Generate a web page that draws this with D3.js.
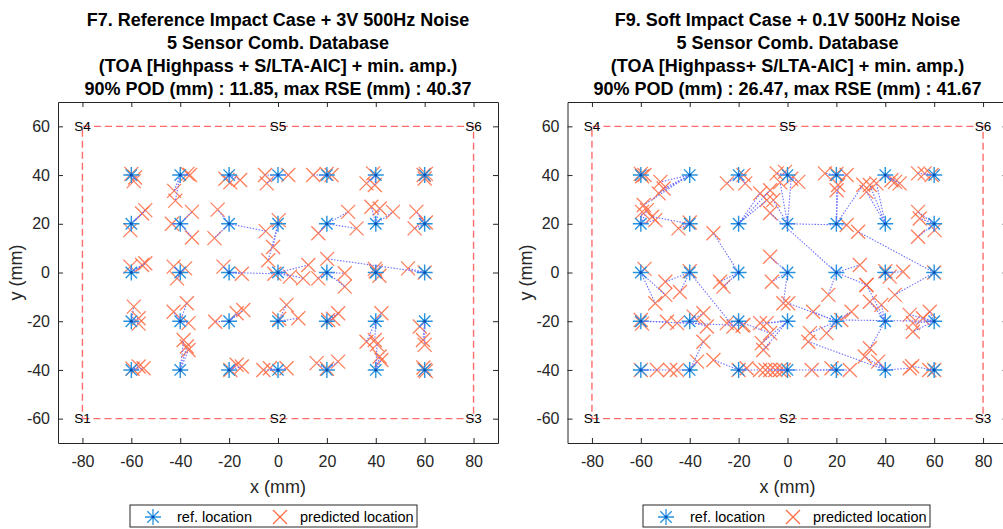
<!DOCTYPE html>
<html>
<head>
<meta charset="utf-8">
<script src="https://cdn.jsdelivr.net/npm/d3@7"></script>
<style>
  body { margin: 0; background: #fff; }
  svg { font-family: "Liberation Sans", Arial, sans-serif; }
  .tick text { fill: #262626; }
</style>
</head>
<body>
<div id="chart"></div>
<script>
// grid of reference impact locations (mm)
var refX = [-60, -40, -20, 0, 20, 40, 60];
var refY = [40, 20, 0, -20, -40];
var xTicks = [-80, -60, -40, -20, 0, 20, 40, 60, 80];
var yTicks = [-60, -40, -20, 0, 20, 40, 60];

// sensors
var sensorNames = ["S1", "S2", "S3", "S4", "S5", "S6"];
var sensorX = [-80, 0, 80, -80, 0, 80];
var sensorY = [-60, -60, -60, 60, 60, 60];

var titleF7 = [
  "F7. Reference Impact Case + 3V 500Hz Noise",
  "5 Sensor Comb. Database",
  "(TOA [Highpass + S/LTA-AIC] + min. amp.)",
  "90% POD (mm) : 11.85, max RSE (mm) : 40.37"
];
var titleF9 = [
  "F9. Soft Impact Case + 0.1V 500Hz Noise",
  "5 Sensor Comb. Database",
  "(TOA [Highpass+ S/LTA-AIC] + min. amp.)",
  "90% POD (mm) : 26.47, max RSE (mm) : 41.67"
];

// predicted locations: [ref x, ref y, predicted x, predicted y]
var predF7 = [
  [-60, 40, -60, 40.5], [-60, 40, -58.5, 39], [-60, 40, -59, 37.5],
  [-40, 40, -37, 40.5], [-40, 40, -36, 40], [-40, 40, -42.5, 33.5], [-40, 40, -42, 29.5],
  [-20, 40, -21.5, 38.5], [-20, 40, -19.5, 37], [-20, 40, -15.5, 38],
  [0, 40, -5.3, 40], [0, 40, -4.6, 36.6], [0, 40, 4.2, 40],
  [20, 40, 14.4, 40], [20, 40, 19.9, 40.5], [20, 40, 21.9, 40],
  [40, 40, 38.9, 40.7], [40, 40, 36.2, 36.6], [40, 40, 39.6, 35.9],
  [60, 40, 59.6, 40], [60, 40, 60, 38.6], [60, 40, 60.5, 40.5],
  [-60, 20, -60.4, 17.4], [-60, 20, -55.6, 24.2], [-60, 20, -54.3, 25.6],
  [-40, 20, -43.4, 20], [-40, 20, -35.2, 24.9], [-40, 20, -35.2, 14.4],
  [-20, 20, -24.7, 25.8], [-20, 20, -26, 14.1], [-20, 20, -5, 17],
  [0, 20, 0.3, 21.5], [0, 20, -2, 10.5], [0, 20, -4, 5],
  [20, 20, 28.7, 24.9], [20, 20, 32.1, 18.1], [20, 20, 16.5, 16.1],
  [40, 20, 38.2, 27], [40, 20, 41.6, 26.3], [40, 20, 47, 24.9],
  [60, 20, 56.6, 24.9], [60, 20, 55.9, 18.1], [60, 20, 60.5, 20.5],
  [-60, 0, -60.4, 2.4], [-60, 0, -55.6, 3.1], [-60, 0, -54.3, 3.8],
  [-40, 0, -42.7, 2.4], [-40, 0, -38, 1.7], [-40, 0, -41.3, -2.4],
  [-20, 0, -22.3, 2.4], [-20, 0, -14.8, -0.5], [-20, 0, -1.5, -0.5],
  [0, 0, 4.9, -1.7], [0, 0, 10.3, -2.4], [0, 0, 12.4, 3.1],
  [20, 0, 16.5, -2.4], [20, 0, 27.3, -0.3], [20, 0, 27.3, -5.8],
  [40, 0, 39.6, 1.5], [40, 0, 41.5, -1.3], [40, 0, 40, 0.5],
  [60, 0, 20.1, 5.6], [60, 0, 53.2, 1.7], [60, 0, 60, 0],
  [-60, -20, -59, -14], [-60, -20, -57, -18.8], [-60, -20, -57, -21],
  [-40, -20, -42.7, -16.1], [-40, -20, -37.3, -12.6], [-40, -20, -36.6, -20.8],
  [-20, -20, -25.7, -20.2], [-20, -20, -16.9, -16.7], [-20, -20, -14.2, -15.4],
  [0, -20, 3.5, -13.3], [0, -20, 8.3, -18.8], [0, -20, 0.5, -19],
  [20, -20, 20.5, -19.5], [20, -20, 22.5, -19], [20, -20, 24.6, -16.7],
  [40, -20, 42.3, -16.7], [40, -20, 36.2, -28.4], [40, -20, 39.6, -27.7],
  [60, -20, 58, -22.2], [60, -20, 59.3, -27.7], [60, -20, 60, -29.7],
  [-60, -40, -59.5, -39.5], [-60, -40, -57, -38.6], [-60, -40, -55, -39.3],
  [-40, -40, -38.6, -27.7], [-40, -40, -37.3, -30.4], [-40, -40, -36.6, -31.8],
  [-20, -40, -19.5, -40], [-20, -40, -16.9, -37.9], [-20, -40, -14.8, -38.6],
  [0, -40, -6, -40], [0, -40, -3.3, -39.3], [0, -40, 3.5, -39.3],
  [20, -40, 15.8, -37.2], [20, -40, 20, -39.5], [20, -40, 24.6, -36.6],
  [40, -40, 41.6, -34.5], [40, -40, 42.3, -35.9], [40, -40, 40.5, -29.5],
  [60, -40, 60, -40], [60, -40, 59.5, -39], [60, -40, 60.5, -40.5]
];

var predF9 = [
  [-60, 40, -60, 40.5], [-60, 40, -59.5, 39.5], [-60, 40, -58.5, 40],
  [-40, 40, -52, 37.2], [-40, 40, -50.7, 34.5], [-40, 40, -52.7, 32.5], [-40, 40, -58.8, 27.7],
  [-20, 40, -18, 40], [-20, 40, -24.8, 36.6], [-20, 40, -17.3, 36.6],
  [0, 40, -4.4, 40.7], [0, 40, -1, 41.3], [0, 40, 4.4, 37.2],
  [20, 40, 15.3, 40.7], [20, 40, 24.2, 40], [20, 40, 20, 40.5],
  [40, 40, 42.5, 37.9], [40, 40, 44, 37.2], [40, 40, 45.9, 36.6],
  [60, 40, 53.4, 40.7], [60, 40, 56.1, 40.7], [60, 40, 59, 40],
  [-60, 20, -57.5, 25.6], [-60, 20, -59.5, 24.9], [-60, 20, -54.1, 21.5],
  [-40, 20, -40, 20.5], [-40, 20, -44.6, 18.1], [-40, 20, -55.4, 22.9],
  [-20, 20, -11.2, 32.5], [-20, 20, -7.1, 33.8], [-20, 20, -8.5, 29.7],
  [0, 20, -5.8, 29.7], [0, 20, -3, 37], [0, 20, 1.5, 38.5], [0, 20, 24.2, 19.5],
  [20, 20, 20.7, 35.9], [20, 20, 20.1, 33.8], [20, 20, 31, 36],
  [40, 20, 33.7, 35.9], [40, 20, 36.4, 36.6], [40, 20, 32.3, 33.1],
  [60, 20, 53.4, 24.9], [60, 20, 54.1, 22.2], [60, 20, 53.4, 14.7], [60, 20, 60.2, 17.4],
  [-60, 0, -58.5, 1.5], [-60, 0, -50, -9.2], [-60, 0, -54.1, -12.6],
  [-40, 0, -50, -3.8], [-40, 0, -44, -8], [-40, 0, -40, 0.5], [-40, 0, -22.1, -22.2],
  [-20, 0, -30.3, 16.1], [-20, 0, -27.6, -3.8], [-20, 0, -26.2, -5.8],
  [0, 0, -7.1, 6.5], [0, 0, -6.4, -3.8], [0, 0, -1.7, -12.6],
  [20, 0, 29.6, 3.1], [20, 0, 32.3, -5.1], [20, 0, 16.7, -9.2], [20, 0, -7.1, 24.4],
  [40, 0, 40, 0.5], [40, 0, 41.8, -1.7], [40, 0, 47.3, 0.3],
  [60, 0, 28.9, 16.7], [60, 0, 60, 0], [60, 0, 43.9, -9.2],
  [-60, -20, -60, -19.5], [-60, -20, -59.5, -21], [-60, -20, -49.3, -20.2], [-60, -20, -18.4, -21.8],
  [-40, -20, -45.2, -20.8], [-40, -20, -38.4, -18.1], [-40, -20, -34.4, -16.7], [-40, -20, -33, -22.2],
  [-20, -20, -24.8, -20.8], [-20, -20, -18, -21.5], [-20, -20, -7.1, -24.9],
  [0, -20, -11.2, -20.8], [0, -20, -8.5, -20.8], [0, -20, -10.5, -29], [0, -20, -9.9, -31.8],
  [20, -20, 10.5, -16.1], [20, -20, 26.2, -16.1], [20, -20, 9.2, -24.9], [20, -20, 16, -24.9], [20, -20, 0.3, -12.6],
  [40, -20, 33.7, -12], [40, -20, 38.4, -13.3], [40, -20, 32.3, -5.1], [40, -20, 33.7, -31.1],
  [60, -20, 58.2, -16.1], [60, -20, 55.4, -18.8], [60, -20, 51.3, -20.8], [60, -20, 50, -17.4], [60, -20, 51.3, -24.3], [60, -20, 22, -19.5],
  [-60, -40, -60, -40], [-60, -40, -53.4, -40], [-60, -40, -48, -40],
  [-40, -40, -45.2, -40], [-40, -40, -37, -36.6], [-40, -40, -34.4, -28.4],
  [-20, -40, -20, -40], [-20, -40, -16.7, -39.3], [-20, -40, -11.2, -40], [-20, -40, -30.3, -35.9],
  [0, -40, -9, -40], [0, -40, -7.1, -40], [0, -40, -5, -40], [0, -40, -1.5, -40],
  [20, -40, 18, -39.3], [20, -40, 25.5, -40], [20, -40, 9.9, -40], [20, -40, -3.1, -40],
  [40, -40, 31.6, -34.5], [40, -40, 37.1, -36.6], [40, -40, 50, -39.3], [40, -40, 8.5, -28.4],
  [60, -40, 51, -38.5], [60, -40, 60, -40], [60, -40, 58, -40]
];

var W = 1003, H = 529;
var svg = d3.select("#chart").append("svg")
  .attr("width", W)
  .attr("height", H);

var refColor = "#2792df";
var predColor = "#ff6940";
var lineColor = "#6f6fff";
var sensorColor = "#ff6b6b";
var axisColor = "#262626";

function drawPanel(left, preds, title, legendLeft) {
  var top = 102, width = 440, height = 341;
  var refs = [];
  refY.forEach(function(yv) {
    refX.forEach(function(xv) { refs.push([xv, yv]); });
  });

  var x = d3.scaleLinear().domain([-90, 90]).range([0, width]);
  var y = d3.scaleLinear().domain([-70, 70]).range([height, 0]);

  var g = svg.append("g").attr("transform", "translate(" + left + "," + top + ")");

  // title
  var cx = left + x(0);
  title.forEach(function(t, i) {
    svg.append("text")
      .attr("x", cx)
      .attr("y", 26 + i * 23)
      .attr("text-anchor", "middle")
      .attr("font-size", "18px")
      .attr("font-weight", "bold")
      .attr("fill", "#000")
      .text(t);
  });

  // sensor frame
  var frame = [[-80, -60], [80, -60], [80, 60], [-80, 60], [-80, -60]];
  g.append("path")
    .attr("d", d3.line().x(function(d) { return x(d[0]); }).y(function(d) { return y(d[1]); })(frame))
    .attr("fill", "none")
    .attr("stroke", sensorColor)
    .attr("stroke-width", 1.4)
    .attr("stroke-dasharray", "7,4");

  // sensor names
  sensorNames.forEach(function(s, i) {
    g.append("text")
      .attr("x", x(sensorX[i]))
      .attr("y", y(sensorY[i]))
      .attr("dy", "0.35em")
      .attr("text-anchor", "middle")
      .attr("font-size", "13.5px")
      .attr("fill", "#000")
      .text(s);
  });

  // predicted markers
  var s = 7;
  var cross = "M" + -s + "," + -s + "L" + s + "," + s + "M" + -s + "," + s + "L" + s + "," + -s;
  g.selectAll(".pred")
    .data(preds)
    .enter()
    .append("path")
    .attr("class", "pred")
    .attr("transform", function(d) { return "translate(" + x(d[2]) + "," + y(d[3]) + ")"; })
    .attr("d", cross)
    .attr("stroke", predColor)
    .attr("stroke-opacity", 0.85)
    .attr("stroke-width", 1.3)
    .attr("fill", "none");

  // reference markers (asterisk)
  var a = 8, b = 5.7;
  var star = "M" + -a + ",0L" + a + ",0M0," + -a + "L0," + a +
    "M" + -b + "," + -b + "L" + b + "," + b + "M" + -b + "," + b + "L" + b + "," + -b;
  g.selectAll(".ref")
    .data(refs)
    .enter()
    .append("path")
    .attr("class", "ref")
    .attr("transform", function(d) { return "translate(" + x(d[0]) + "," + y(d[1]) + ")"; })
    .attr("d", star)
    .attr("stroke", refColor)
    .attr("stroke-width", 1.4)
    .attr("fill", "none");

  // connecting dotted lines
  g.selectAll(".err")
    .data(preds)
    .enter()
    .append("line")
    .attr("class", "err")
    .attr("x1", function(d) { return x(d[0]); })
    .attr("y1", function(d) { return y(d[1]); })
    .attr("x2", function(d) { return x(d[2]); })
    .attr("y2", function(d) { return y(d[3]); })
    .attr("stroke", lineColor)
    .attr("stroke-width", 1.1)
    .attr("stroke-dasharray", "1.5,1.5");

  g.selectAll(".refdot")
    .data(refs)
    .enter()
    .append("circle")
    .attr("cx", function(d) { return x(d[0]); })
    .attr("cy", function(d) { return y(d[1]); })
    .attr("r", 1.5)
    .attr("fill", "#0a4fb5");

  // axes, ticks inward, box
  var fmt = function(d) { return d; };
  var xb = g.append("g").attr("transform", "translate(0," + height + ")")
    .call(d3.axisBottom(x).tickValues(xTicks).tickSize(-5).tickSizeOuter(0).tickPadding(13).tickFormat(fmt));
  var yl = g.append("g")
    .call(d3.axisLeft(y).tickValues(yTicks).tickSize(-5).tickSizeOuter(0).tickPadding(8).tickFormat(fmt));
  var xt = g.append("g")
    .call(d3.axisTop(x).tickValues(xTicks).tickSize(-5).tickSizeOuter(0).tickFormat(""));
  var yr = g.append("g").attr("transform", "translate(" + width + ",0)")
    .call(d3.axisRight(y).tickValues(yTicks).tickSize(-5).tickSizeOuter(0).tickFormat(""));
  [xb, yl, xt, yr].forEach(function(ax) {
    ax.selectAll("path, line").attr("stroke", axisColor);
    ax.selectAll("text").attr("font-size", "16px").attr("font-family", "Liberation Sans, Arial, sans-serif");
  });

  // axis labels
  g.append("text")
    .attr("x", x(0))
    .attr("y", height + 50)
    .attr("text-anchor", "middle")
    .attr("font-size", "18px")
    .attr("fill", axisColor)
    .text("x (mm)");
  g.append("text")
    .attr("transform", "translate(-36," + y(0) + ") rotate(-90)")
    .attr("text-anchor", "middle")
    .attr("font-size", "18px")
    .attr("fill", axisColor)
    .text("y (mm)");

  // legend
  var lg = svg.append("g").attr("transform", "translate(" + legendLeft + ",505)");
  lg.append("rect")
    .attr("width", 287)
    .attr("height", 22)
    .attr("fill", "#fff")
    .attr("stroke", "#262626")
    .attr("stroke-width", 1);
  lg.append("path")
    .attr("transform", "translate(23,12)")
    .attr("d", star)
    .attr("stroke", refColor)
    .attr("stroke-width", 1.3)
    .attr("fill", "none");
  lg.append("circle").attr("cx", 23).attr("cy", 12).attr("r", 1.3).attr("fill", "#0a4fb5");
  lg.append("text")
    .attr("x", 47)
    .attr("y", 17)
    .attr("font-size", "14.5px")
    .attr("fill", "#000")
    .text("ref. location");
  lg.append("path")
    .attr("transform", "translate(150,12)")
    .attr("d", cross)
    .attr("stroke", predColor)
    .attr("stroke-width", 1.2)
    .attr("fill", "none");
  lg.append("text")
    .attr("x", 170)
    .attr("y", 17)
    .attr("font-size", "14.5px")
    .attr("fill", "#000")
    .text("predicted location");
}

drawPanel(58, predF7, titleF7, 130);
drawPanel(567.5, predF9, titleF9, 643);
</script>
</body>
</html>
